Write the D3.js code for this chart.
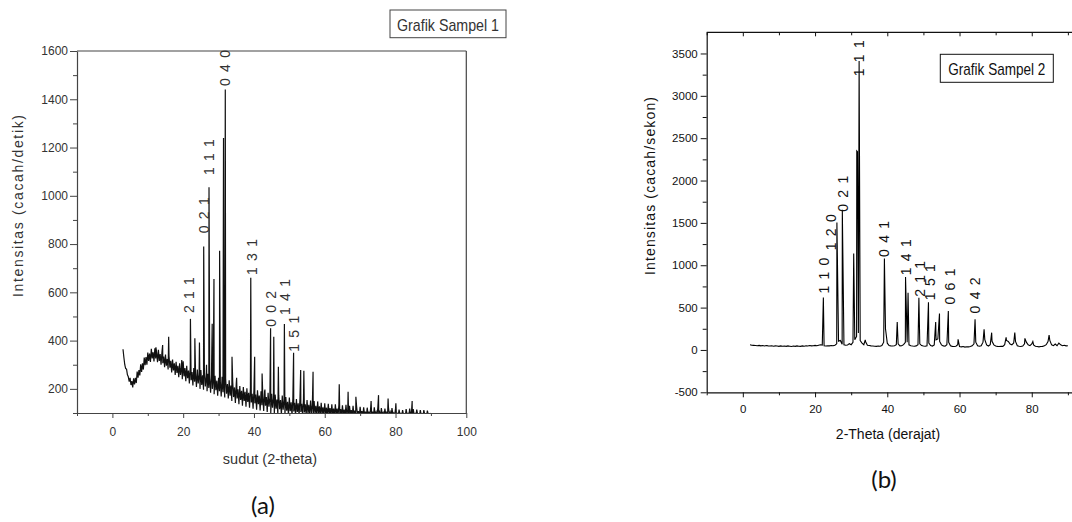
<!DOCTYPE html>
<html><head><meta charset="utf-8">
<script src="https://cdn.jsdelivr.net/npm/d3@7"></script>
<style>body{margin:0;background:#fff}svg{display:block}</style>
</head><body>
<svg id="c" width="1072" height="522"></svg>
<script>
// ---------- Chart (a): Grafik Sampel 1 ----------
// noisy background read as the upper and lower edge of the noise band, 0.5 deg apart
const thetaStartA = 3.0, thetaStepA = 0.5;
const bandTopA = [
 364,300,282,250,246,232,244,246,272,278,
 302,306,330,332,350,346,366,352,368,350,
 362,344,352,334,342,324,336,316,322,306,
 312,296,306,290,314,286,296,276,290,270,
 286,264,280,258,278,256,268,250,262,244,
 260,240,254,234,246,230,250,226,242,220,
 236,214,228,206,222,198,212,192,208,188,
 202,184,204,180,196,176,194,172,190,170,
 188,166,184,162,180,160,176,156,174,154,
 172,152,166,146,164,144,162,142,158,140,
 160,138,156,136,154,134,152,132,150,130,
 148,128,142,124,140,122,138,120,136,118,
 136,118,134,116,132,114,134,112,130,112,
 130,110,128,108,126,108,124,106,122,106,
 126,106,124,104,122,104,120,102,118,102,
 124,104,120,100,118,98,114,98,112,96,
 116,98,118,100,116,98,114,96,112,96,
 112,96,110,94,100
];
const bandBottomA = [
 330,284,258,230,216,206,218,224,246,256,
 270,280,298,300,316,312,326,314,326,310,
 316,300,306,290,296,280,288,268,276,258,
 266,248,258,240,252,232,244,222,236,214,
 230,208,222,200,216,196,210,190,204,184,
 200,178,194,172,190,168,186,164,180,160,
 172,150,166,142,160,136,154,130,150,126,
 146,122,144,118,140,114,136,110,132,108,
 130,104,126,100,122,96,118,94,116,92,
 114,92,110,90,108,90,106,90,104,90,
 104,90,102,90,100,88,100,88,98,88,
 98,88,96,88,96,86,96,86,94,86,
 94,86,94,86,94,86,94,86,94,86,
 94,86,94,86,94,86,94,86,94,86,
 94,86,94,86,94,86,94,86,94,86,
 94,86,94,86,94,86,94,86,94,86,
 94,86,94,86,94,86,94,86,94,86,
 94,86,94,86,94
];
const peakThetaA = [12.3,14.2,15.9,19.6,22.05,23.3,24.6,25.8,26.6,27.3,28.2,28.7,30.3,31.4,31.9,33.8,35.1,39.1,40.2,42.3,43.1,44.7,45.6,46.9,48.6,51.2,53.2,54.1,56.7,64.1,66.6,68.8,73.1,75.2,77.9,80.1,84.7];
const peakCountA = [372,382,416,320,490,410,392,790,300,1035,470,655,772,1240,1440,333,246,660,333,264,197,451,416,292,469,350,278,275,271,219,188,167,150,174,160,140,150];
const hklA = ["2 1 1","0 2 1","1 1 1","0 4 0","1 3 1","0 0 2","1 4 1","1 5 1"];
const hklThetaA = [21.5,25.8,27.2,31.9,39.4,44.9,48.9,51.3];
const hklCountA = [514,845,1086,1455,672,457,506,354];
const xTicksA = [0,20,40,60,80,100];
const xMinorA = [-10,10,30,50,70,90];
const yTicksA = [200,400,600,800,1000,1200,1400,1600];
const yMinorA = [100,300,500,700,900,1100,1300,1500];

// ---------- Chart (b): Grafik Sampel 2 ----------
const thetaStartB = 2.0, thetaStepB = 0.5;
const backgroundB = [
 62,56,54,52,50,54,48,52,46,52,
 48,46,50,44,48,46,42,48,44,46,
 42,48,44,40,46,42,48,44,42,48,
 44,50,46,52,48,50,54,50,56,62,
 58,50,46,50,48,52,50,56,72,104,
 112,66,60,56,58,74,62,90,120,160,
 200,110,80,62,96,56,52,48,46,44,
 42,46,44,52,92,250,80,52,48,46,
 50,62,72,48,50,62,90,90,60,50,
 46,44,48,62,72,52,46,44,50,82,
 52,46,60,120,130,100,60,48,44,62,
 90,50,42,40,44,62,40,36,40,34,
 38,36,40,48,72,92,50,44,50,92,
 122,60,46,62,102,60,46,42,40,44,
 42,62,112,100,70,60,82,100,50,44,
 40,46,72,92,60,50,70,60,44,40,
 36,40,42,50,62,100,112,60,50,70,
 50,80,60,50,56,48,50
];
const peakThetaB = [22.3,26.05,27.55,30.7,31.55,31.75,32.2,33.9,39.2,42.75,45.05,45.75,48.75,51.4,53.4,54.45,56.9,59.6,64.3,66.8,68.9,72.9,75.3,78.1,80.3,84.8];
const peakCountB = [620,1505,1655,1140,2350,2340,3410,120,1080,330,862,674,615,564,329,431,459,125,361,243,204,149,204,137,100,176];
const hklB = ["1 1 0","1 2 0","0 2 1","1 1 1","0 4 1","1 4 1","2 1 1","1 5 1","0 6 1","0 4 2"];
const hklThetaB = [22.4,24.4,27.6,32.2,39.2,45.2,49.0,51.7,57.4,64.2];
const hklCountB = [666,1177,1632,3231,1098,882,627,588,537,431];
const xTicksB = [0,20,40,60,80];
const xMinorB = [-10,10,30,50,70,90];
const yTicksB = [-500,0,500,1000,1500,2000,2500,3000,3500];
const yMinorB = [-250,250,750,1250,1750,2250,2750,3250];

// interleave band top (at theta) and band bottom (at theta + step/2)
function bandSeries(start, step, top, bottom){
  const pts = [];
  top.forEach((v,i)=>{
    pts.push([start + i*step, v]);
    if (i < top.length - 1) pts.push([start + i*step + step/2, bottom[i]]);
  });
  return pts;
}
function mergePeaks(pts, pt, pc){
  pt.forEach((t,i)=>pts.push([t, pc[i]]));
  pts.sort((a,b)=>a[0]-b[0]);
  return pts;
}

const svg = d3.select("#c");
const FONT = "Arial, 'Liberation Sans', Helvetica, sans-serif";
const fmt = d => String(d);

function drawChart(o){
  const g = svg.append("g");
  const x = d3.scaleLinear(o.xDomain, o.xRange);
  const y = d3.scaleLinear(o.yDomain, o.yRange);
  const [x0,x1] = o.xRange, [yb,yt] = o.yRange;

  const clipId = "clip" + o.id;
  svg.append("clipPath").attr("id", clipId).append("rect")
    .attr("x", x0).attr("y", yt).attr("width", x1 - x0).attr("height", yb - yt);

  g.append("path").datum(o.data)
    .attr("clip-path", `url(#${clipId})`)
    .attr("fill","none").attr("stroke", o.lineColor).attr("stroke-width", o.lineWidth)
    .attr("d", d3.line().x(d=>x(d[0])).y(d=>y(d[1])));

  g.append("line").attr("x1",x0).attr("x2",x1).attr("y1",yt).attr("y2",yt)
    .attr("stroke",o.axisColor).attr("stroke-width",1.2);
  g.append("line").attr("x1",x1).attr("x2",x1).attr("y1",yt).attr("y2",yb)
    .attr("stroke",o.axisColor).attr("stroke-width",1.2);

  if (o.topTicks){
    g.append("g").attr("transform",`translate(0,${yt})`)
      .call(d3.axisTop(x).tickValues(o.xTicks).tickSize(-4).tickFormat(""))
      .call(s=>s.select(".domain").remove());
    g.append("g").attr("transform",`translate(0,${yt})`)
      .call(d3.axisTop(x).tickValues(o.xMinor).tickSize(-3).tickFormat(""))
      .call(s=>s.select(".domain").remove());
  }

  g.append("g").attr("transform",`translate(0,${yb})`)
    .call(d3.axisBottom(x).tickValues(o.xTicks).tickFormat(fmt).tickSize(5).tickPadding(o.xPad).tickSizeOuter(0));
  g.append("g").attr("transform",`translate(0,${yb})`)
    .call(d3.axisBottom(x).tickValues(o.xMinor).tickSize(3).tickFormat("").tickSizeOuter(0))
    .call(s=>s.select(".domain").remove());
  g.append("g").attr("transform",`translate(${x0},0)`)
    .call(d3.axisLeft(y).tickValues(o.yTicks).tickFormat(fmt).tickSize(o.yTickLen).tickPadding(o.yPad).tickSizeOuter(0));
  g.append("g").attr("transform",`translate(${x0},0)`)
    .call(d3.axisLeft(y).tickValues(o.yMinor).tickSize(4).tickFormat("").tickSizeOuter(0))
    .call(s=>s.select(".domain").remove());
  g.selectAll(".domain").attr("stroke",o.axisColor).attr("stroke-width",1.2);
  g.selectAll(".tick line").attr("stroke",o.axisColor);
  g.selectAll(".tick text").style("font-family",FONT).style("font-size",o.tickFont+"px").attr("fill",o.textColor);

  g.selectAll("text.hkl").data(o.hkl).enter().append("text")
    .attr("class","hkl")
    .attr("transform",(d,i)=>`translate(${x(o.hklT[i])},${y(o.hklC[i])}) rotate(-90)`)
    .attr("dy","0.36em").attr("text-anchor","start")
    .style("font-family",FONT).style("font-size","14px").attr("letter-spacing",1.2)
    .attr("fill",o.textColor).text(d=>d);

  g.append("text").attr("x",o.xTitlePos[0]).attr("y",o.xTitlePos[1])
    .attr("text-anchor","middle").style("font-family",FONT).style("font-size",o.xTitleFont+"px")
    .attr("fill",o.textColor).text(o.xTitle);
  g.append("text").attr("transform",`translate(${o.yTitlePos[0]},${o.yTitlePos[1]}) rotate(-90)`)
    .attr("text-anchor","middle").style("font-family",FONT).style("font-size","14px")
    .attr("textLength",o.yTitleLen).attr("lengthAdjust","spacing")
    .attr("fill",o.textColor).text(o.yTitle);

  const b = o.box;
  g.append("rect").attr("x",b[0]).attr("y",b[1]).attr("width",b[2]).attr("height",b[3])
    .attr("fill","#fff").attr("stroke",o.axisColor).attr("stroke-width",1);
  g.append("text").attr("x",b[0]+b[2]/2).attr("y",b[4])
    .attr("text-anchor","middle").style("font-family",FONT).style("font-size","17px")
    .attr("textLength",b[5]).attr("lengthAdjust","spacingAndGlyphs")
    .attr("fill",o.textColor).text(o.title);

  g.append("text").attr("x",o.capPos[0]).attr("y",o.capPos[1])
    .attr("text-anchor","middle").style("font-family","Lato, 'Open Sans', sans-serif")
    .style("font-size","24px").attr("fill","#111").text(o.caption);
}

drawChart({
  id:"A", data: mergePeaks(bandSeries(thetaStartA, thetaStepA, bandTopA, bandBottomA), peakThetaA, peakCountA),
  xDomain:[-10,100], xRange:[77,466.3], yDomain:[100,1600], yRange:[413,51],
  xTicks:xTicksA, xMinor:xMinorA, yTicks:yTicksA, yMinor:yMinorA,
  xPad:9, yPad:2, yTickLen:7, tickFont:12, topTicks:false,
  lineColor:"#111", lineWidth:1.2, axisColor:"#444", textColor:"#333",
  hkl:hklA, hklT:hklThetaA, hklC:hklCountA,
  xTitle:"sudut (2-theta)", xTitlePos:[270,464], xTitleFont:14.5,
  yTitle:"Intensitas (cacah/detik)", yTitlePos:[23,206], yTitleLen:182,
  title:"Grafik Sampel 1", box:[390,10,116,27.7,30.5,102],
  caption:"(a)", capPos:[263,514]
});

drawChart({
  id:"B", data: mergePeaks(backgroundB.map((v,i)=>[thetaStartB + i*thetaStepB, v]), peakThetaB, peakCountB),
  xDomain:[-10,100], xRange:[706.7,1104], yDomain:[-500,3750], yRange:[392.3,32.3],
  xTicks:xTicksB, xMinor:xMinorB, yTicks:yTicksB, yMinor:yMinorB,
  xPad:8, yPad:3, yTickLen:6, tickFont:11.5, topTicks:true,
  lineColor:"#000", lineWidth:1.1, axisColor:"#111", textColor:"#111",
  hkl:hklB, hklT:hklThetaB, hklC:hklCountB,
  xTitle:"2-Theta (derajat)", xTitlePos:[888,439], xTitleFont:14,
  yTitle:"Intensitas (cacah/sekon)", yTitlePos:[655,186], yTitleLen:178,
  title:"Grafik Sampel 2", box:[940.3,54.3,113,28,74.5,97],
  caption:"(b)", capPos:[884,488]
});
</script>
</body></html>
